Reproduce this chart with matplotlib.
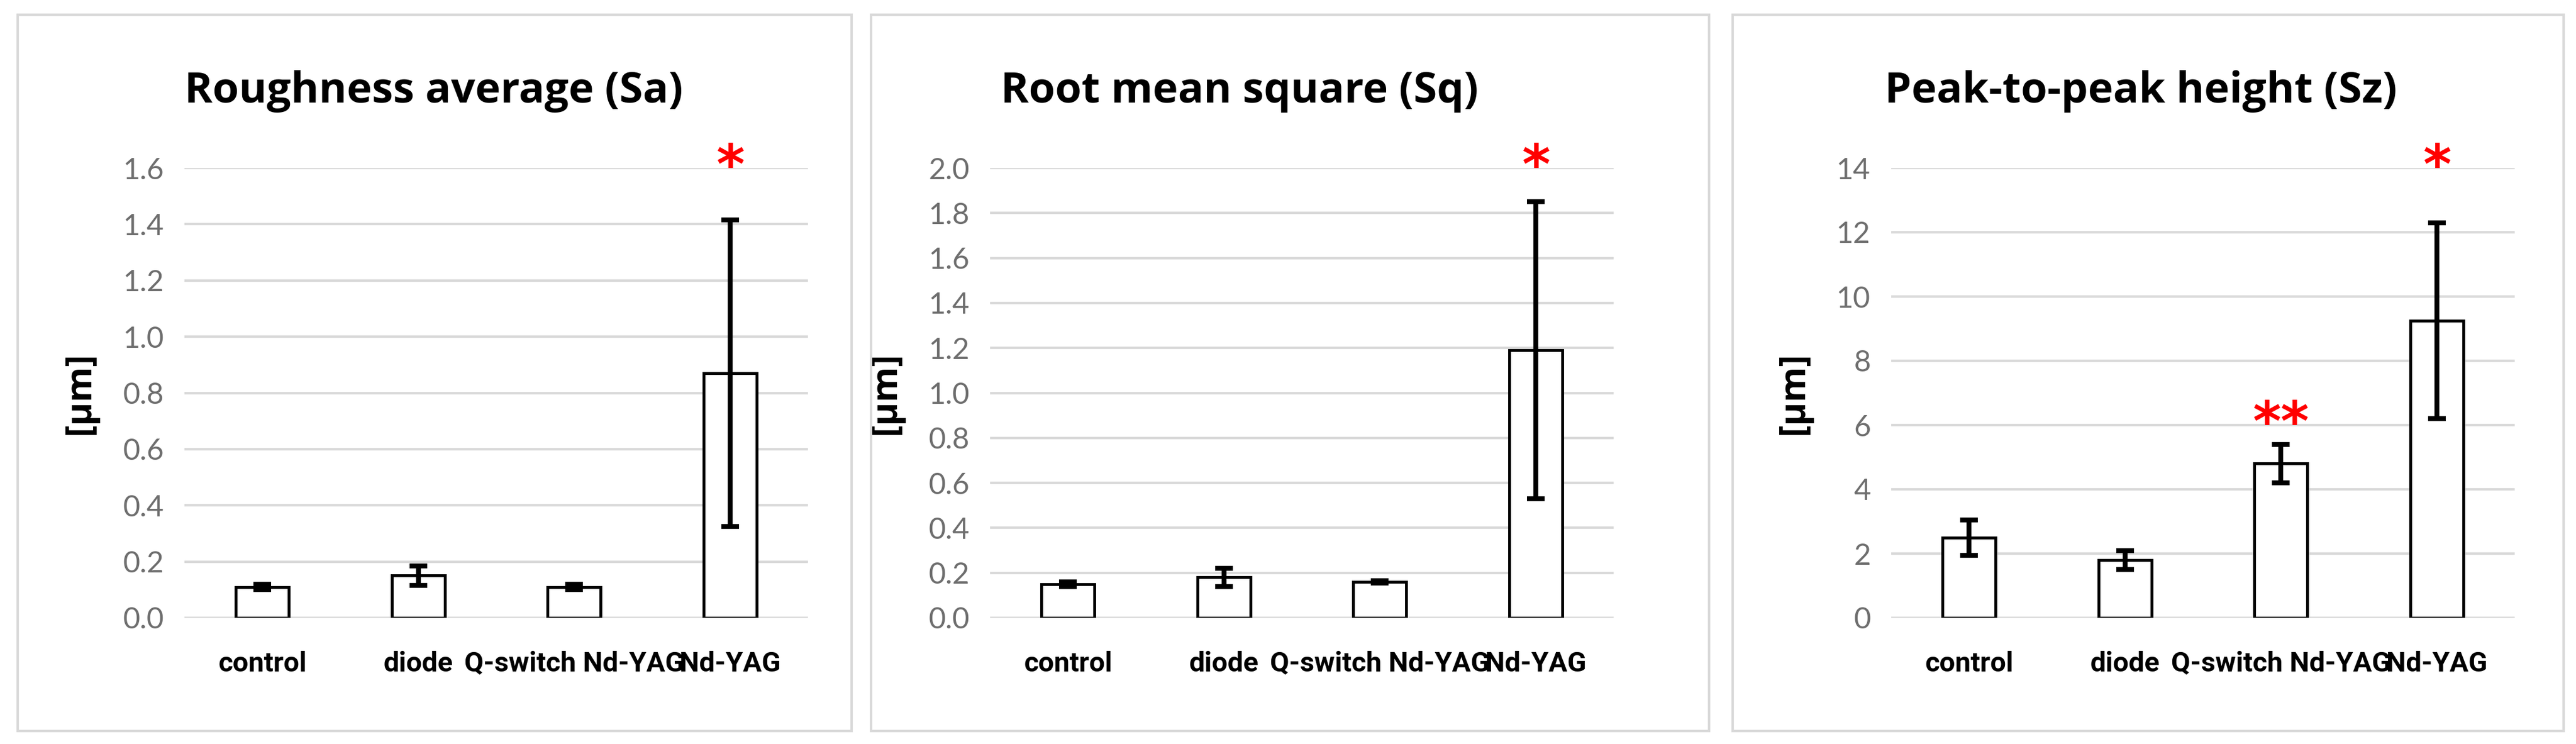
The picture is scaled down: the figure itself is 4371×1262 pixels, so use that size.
import matplotlib
matplotlib.use("Agg")
import matplotlib.pyplot as plt
from matplotlib.patches import Rectangle

categories = ["control", "diode", "Q-switch Nd-YAG", "Nd-YAG"]
titles = ["Roughness average (Sa)", "Root mean square (Sq)", "Peak-to-peak height (Sz)"]
sa_vals = [0.11, 0.15, 0.11, 0.87]
sa_err = [0.01, 0.035, 0.01, 0.545]
sq_vals = [0.15, 0.18, 0.16, 1.19]
sq_err = [0.01, 0.04, 0.005, 0.66]
sz_vals = [2.5, 1.8, 4.8, 9.25]
sz_err = [0.55, 0.3, 0.6, 3.05]
ylims = [1.6, 2.0, 14]
ysteps = [0.2, 0.2, 2]
tickfmt = ["{:.1f}", "{:.1f}", "{:.0f}"]
stars = [[(3, 1.6, "*")], [(3, 2.0, "*")], [(2, 6.0, "**"), (3, 14.0, "*")]]

W, H = 4371, 1262
fig = plt.figure(figsize=(W / 100, H / 100), dpi=100)
fig.patch.set_facecolor("white")

panels = [(30, 1445), (1478, 2900), (2940, 4350)]
axlefts = [313, 1680, 3209]
axw = 1058
ybot, ytop = 1048, 285

data = [(sa_vals, sa_err), (sq_vals, sq_err), (sz_vals, sz_err)]
for k in range(3):
    x0, x1 = panels[k]
    fig.patches.append(Rectangle((x0 / W, 1 - 1240 / H), (x1 - x0) / W, 1215 / H,
                                 transform=fig.transFigure, fill=False,
                                 edgecolor="#d9d9d9", linewidth=3))
    ax = fig.add_axes([axlefts[k] / W, 1 - ybot / H, axw / W, (ybot - ytop) / H])
    vals, err = data[k]
    xs = list(range(len(categories)))
    ax.bar(xs, vals, width=0.34, color="white", edgecolor="black", linewidth=3.5, zorder=3)
    ax.errorbar(xs, vals, yerr=err, fmt="none", ecolor="black", elinewidth=6,
                capsize=11, capthick=6, zorder=4)
    ax.set_xlim(-0.5, 3.5)
    ax.set_ylim(0, ylims[k])
    n = int(round(ylims[k] / ysteps[k]))
    ticks = [i * ysteps[k] for i in range(n + 1)]
    ax.set_yticks(ticks)
    ax.set_yticklabels([tickfmt[k].format(t) for t in ticks], fontsize=36,
                       color="#6e6e6e", family="Lato")
    ax.grid(axis="y", color="#d9d9d9", linewidth=3, zorder=0)
    ax.set_axisbelow(True)
    for s in ax.spines.values():
        s.set_visible(False)
    ax.tick_params(length=0, pad=25)
    ax.set_xticks(xs)
    ax.set_xticklabels(categories, fontsize=34, fontweight="bold", family="Roboto")
    ax.tick_params(axis="x", pad=40)
    ax.set_ylabel("[µm]", fontsize=44, fontweight="bold", family="Open Sans", labelpad=30)
    ax.set_title(titles[k], fontsize=52, fontweight="bold", family="Open Sans", pad=80, x=0.4)
    for (i, y, s) in stars[k]:
        ax.text(i, y, s, color="red", fontsize=66, fontweight="bold",
                ha="center", va="center", family="DejaVu Sans", zorder=5)

fig.savefig("out.png", dpi=100, facecolor="white")
